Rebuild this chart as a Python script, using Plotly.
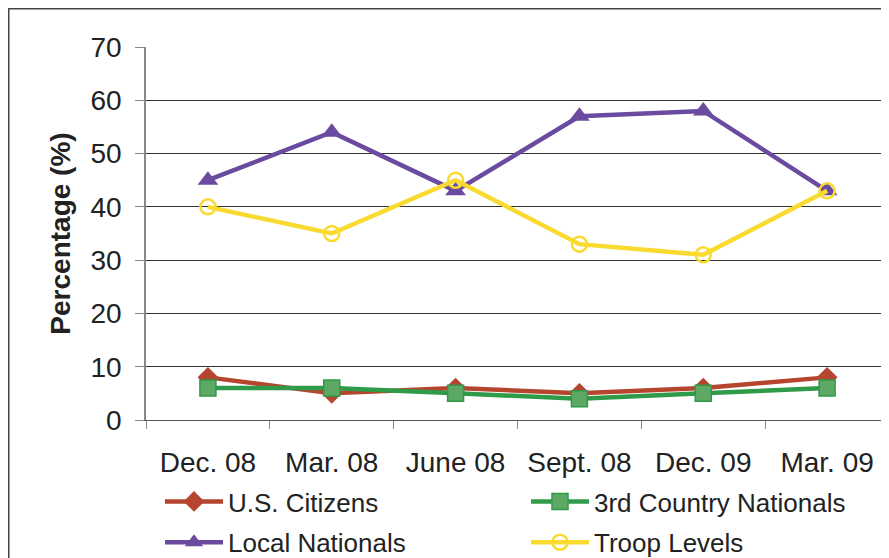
import plotly.graph_objects as go

categories = ["Dec. 08", "Mar. 08", "June 08", "Sept. 08", "Dec. 09", "Mar. 09"]
us_citizens = [8, 5, 6, 5, 6, 8]
third_country = [6, 6, 5, 4, 5, 6]
local_nationals = [45, 54, 43, 57, 58, 43]
troop_levels = [40, 35, 45, 33, 31, 43]
y_ticks = [0, 10, 20, 30, 40, 50, 60, 70]

# page has an 8px body margin; figure occupies page x 8..889, y 8..558
OFF = 8
W, H = 889 - OFF, 558 - OFF
L, R, T, B = 146 - OFF, 0, 47 - OFF, 558 - 420
pw, ph = W - L - R, H - T - B

fig = go.Figure()
fig.add_trace(go.Scatter(
    x=categories, y=us_citizens, name="U.S. Citizens", mode="lines+markers",
    legend="legend", legendgroup="a",
    line=dict(color="#B5452F", width=4.5),
    marker=dict(symbol="diamond", size=16, color="#B5452F")))
fig.add_trace(go.Scatter(
    x=categories, y=third_country, name="3rd Country Nationals", mode="lines+markers",
    legend="legend2", legendgroup="b",
    line=dict(color="#2F9A48", width=4.5),
    marker=dict(symbol="square", size=16, color="#5CA864", line=dict(color="#2F9A48", width=1.5))))
fig.add_trace(go.Scatter(
    x=categories, y=local_nationals, name="Local Nationals", mode="lines+markers",
    legend="legend", legendgroup="c",
    line=dict(color="#6A4BA0", width=4.5),
    marker=dict(symbol="triangle-up", size=18, color="#6A4BA0")))
fig.add_trace(go.Scatter(
    x=categories, y=troop_levels, name="Troop Levels", mode="lines+markers",
    legend="legend2", legendgroup="d",
    line=dict(color="#F9DA2E", width=4.5),
    marker=dict(symbol="circle-open", size=15, color="#F9DA2E", line=dict(width=2.5))))

font_family = "Liberation Sans, Arial, sans-serif"
leg_common = dict(
    orientation="v", xanchor="left", yanchor="top",
    y=-(478 - 420) / ph,
    font=dict(size=26, family=font_family, color="#222222"),
    bgcolor="rgba(0,0,0,0)", traceorder="grouped", tracegroupgap=4,
    itemwidth=58,
)

fig.update_layout(
    width=W, height=H,
    margin=dict(l=L, r=R, t=T, b=B, autoexpand=False),
    paper_bgcolor="white", plot_bgcolor="white",
    font=dict(family=font_family, color="#222222"),
    showlegend=True,
    legend=dict(x=(160 - 146) / pw, **leg_common),
    legend2=dict(x=(526 - 146) / pw, **leg_common),
    xaxis=dict(
        type="category", range=[-0.5, 5.5], tickson="boundaries",
        showgrid=False, ticks="outside", ticklen=8, tickcolor="#888888",
        showline=True, linecolor="#555555", linewidth=1,
        tickfont=dict(size=28), zeroline=False, ticklabelstandoff=17,
    ),
    yaxis=dict(
        range=[0, 70], tickvals=y_ticks, showgrid=True, gridcolor="#333333", gridwidth=1,
        ticks="outside", ticklen=9, tickcolor="#888888",
        showline=True, linecolor="#888888", linewidth=1.5,
        tickfont=dict(size=28), zeroline=False, ticklabelstandoff=8,
        title=dict(text="<b>Percentage (%)</b>", font=dict(size=28), standoff=12),
    ),
    shapes=[dict(
        type="rect", xref="paper", yref="paper",
        x0=-(L - 0.75) / pw, x1=1.05, y0=-(B + 20) / ph, y1=1 + (T - 0.75) / ph,
        line=dict(color="#444444", width=1.5), fillcolor="rgba(0,0,0,0)", layer="below",
    )],
)

fig.write_html("out.html")
